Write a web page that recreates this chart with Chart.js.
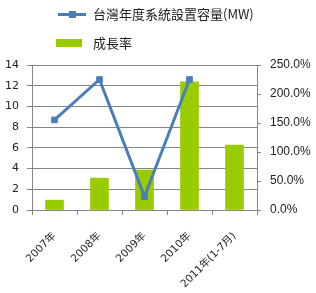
<!DOCTYPE html>
<html lang="zh-Hant">
<head>
<meta charset="utf-8">
<script src="https://cdn.jsdelivr.net/npm/chart.js@4/dist/chart.umd.min.js"></script>
<style>
  html, body { margin: 0; padding: 0; background: #fff; }
  #wrap { position: relative; width: 316px; height: 293px; overflow: hidden; }
  #chart { position: absolute; left: 0; top: 0; }
  .legend-text {
    position: absolute; left: 93px;
    font: 13px "Noto Sans CJK TC", "DejaVu Sans", sans-serif; color: #222;
    line-height: 16px;
  }
  .legend-line { position: absolute; left: 58px; top: 13px; width: 28px; height: 3px; background: #4A7EBB; }
  .legend-line::after { content: ''; position: absolute; left: 11px; top: -2px; width: 7px; height: 7px; background: #4A7EBB; }
  .legend-box { position: absolute; left: 56px; top: 39px; width: 26px; height: 8px; background: #99CC00; }
</style>
</head>
<body>
<div id="wrap">
  <canvas id="chart" width="316" height="293"></canvas>
  <!-- 범례: 세로 2줄 배치라 HTML로 직접 그림 -->
  <span class="legend-line"></span>
  <span class="legend-text" style="top:6px">台灣年度系統設置容量(MW)</span>
  <span class="legend-box"></span>
  <span class="legend-text" style="top:35px">成長率</span>
</div>
<script>
// 데이터
const categories = ['2007年', '2008年', '2009年', '2010年', '2011年(1-7月)'];
const capacityMW = [8.7, 12.6, 1.3, 12.6, null];   // 왼쪽 축 (MW)
const growthRate = [17, 55, 69, 221, 112];          // 오른쪽 축 (%)
const leftAxisMax = 14;
const leftAxisStep = 2;
const rightAxisMax = 250;
const rightAxisStep = 50;

const GRID = '#868686';
const TEXT = '#222';

new Chart(document.getElementById('chart'), {
  data: {
    labels: categories,
    datasets: [
      {
        type: 'line',
        label: '台灣年度系統設置容量(MW)',
        data: capacityMW,
        yAxisID: 'y',
        order: 0,
        borderColor: '#4A7EBB',
        backgroundColor: '#4A7EBB',
        borderWidth: 3,
        pointStyle: 'rect',
        pointRadius: 4,
        pointBorderWidth: 1,
        tension: 0,
      },
      {
        type: 'bar',
        label: '成長率',
        data: growthRate,
        yAxisID: 'y1',
        order: 1,
        backgroundColor: '#99CC00',
        barThickness: 18,
      },
    ],
  },
  options: {
    responsive: false,
    devicePixelRatio: 1,
    animation: false,
    layout: { padding: { top: 65, left: 0, right: 0, bottom: 0 } },
    plugins: { legend: { display: false }, tooltip: { enabled: false } },
    scales: {
      x: {
        offset: true,
        grid: { offset: true, drawOnChartArea: false, tickLength: 5, color: GRID },
        border: { color: GRID },
        ticks: {
          minRotation: 45, maxRotation: 45, padding: 15, color: TEXT,
          font: { family: '"DejaVu Sans", "Noto Sans CJK TC", sans-serif', size: 10.5 },
        },
        afterFit: (s) => { s.height = 83; },
      },
      y: {
        position: 'left',
        min: 0, max: leftAxisMax,
        grid: { color: GRID, tickLength: 5 },
        border: { color: GRID },
        ticks: {
          stepSize: leftAxisStep, padding: 8, color: TEXT,
          font: { family: '"DejaVu Sans", sans-serif', size: 11 },
        },
        afterFit: (s) => { s.width = 32; },
      },
      y1: {
        position: 'right',
        min: 0, max: rightAxisMax,
        grid: { drawOnChartArea: false, color: GRID, tickLength: 4 },
        border: { color: GRID },
        ticks: {
          stepSize: rightAxisStep, padding: 9, color: TEXT,
          font: { family: '"Liberation Sans", sans-serif', size: 12 },
          callback: (v) => v.toFixed(1) + '%',
        },
        afterFit: (s) => { s.width = 59; },
      },
    },
  },
});
</script>
</body>
</html>
